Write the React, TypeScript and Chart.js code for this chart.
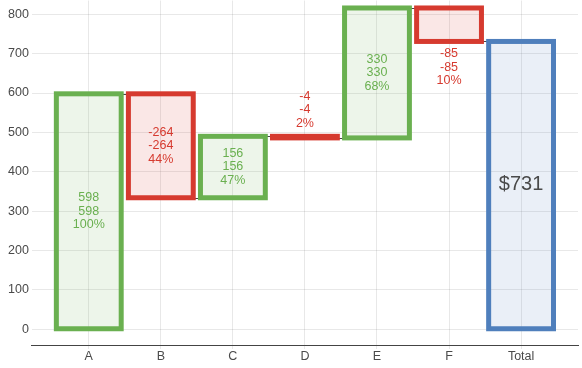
import { useEffect, useRef } from 'react';
import { Chart, registerables } from 'chart.js';

Chart.register(...registerables);

const categories = ['A', 'B', 'C', 'D', 'E', 'F', 'Total'];
const changes = [598, -264, 156, -4, 330, -85];
const totalValue = 731;
const totalLabel = '$731';
const percentLabels = ['100%', '44%', '47%', '2%', '68%', '10%'];
const yTickValues = [0, 100, 200, 300, 400, 500, 600, 700, 800];

const GREEN = '#6ab050';
const RED = '#d63a2f';
const BLUE = '#4f7fbc';
const GREEN_FILL = 'rgba(106,176,80,0.12)';
const RED_FILL = 'rgba(214,58,47,0.12)';
const BLUE_FILL = 'rgba(79,127,188,0.12)';
const FONT_FAMILY = '"Liberation Sans", Arial, Helvetica, sans-serif';

function buildRanges(): number[][] {
  const ranges: number[][] = [];
  let run = 0;
  changes.forEach((c) => {
    ranges.push([run, run + c]);
    run += c;
  });
  ranges.push([0, totalValue]);
  return ranges;
}

export default function App() {
  const canvasRef = useRef<HTMLCanvasElement | null>(null);

  useEffect(() => {
    if (!canvasRef.current) return;
    const ranges = buildRanges();
    const n = ranges.length;
    const borderColors = ranges.map((r, i) => (i === n - 1 ? BLUE : r[1] >= r[0] ? GREEN : RED));
    const fillColors = ranges.map((r, i) => (i === n - 1 ? BLUE_FILL : r[1] >= r[0] ? GREEN_FILL : RED_FILL));

    const waterfallPlugin = {
      id: 'waterfallDecor',
      afterDatasetsDraw(chart: any) {
        const ctx = chart.ctx as CanvasRenderingContext2D;
        const yScale = chart.scales.y;
        const bars = chart.getDatasetMeta(0).data;
        const area = chart.chartArea;
        ctx.save();
        // connectors
        ctx.strokeStyle = '#444';
        ctx.lineWidth = 1;
        for (let i = 0; i < bars.length - 1; i++) {
          const a = bars[i].getProps(['x', 'width'], true);
          const b = bars[i + 1].getProps(['x', 'width'], true);
          const y = Math.round(yScale.getPixelForValue(ranges[i][1])) + 0.5;
          ctx.beginPath();
          ctx.moveTo(a.x + a.width / 2, y);
          ctx.lineTo(b.x - b.width / 2, y);
          ctx.stroke();
        }
        // borders (centred on the bar edges)
        ctx.lineWidth = 5;
        for (let i = 0; i < bars.length; i++) {
          const p = bars[i].getProps(['x', 'y', 'base', 'width'], true);
          const top = Math.min(p.y, p.base);
          const h = Math.abs(p.base - p.y);
          ctx.strokeStyle = borderColors[i];
          ctx.strokeRect(p.x - p.width / 2, top, p.width, h);
        }
        // labels
        ctx.textAlign = 'center';
        ctx.textBaseline = 'middle';
        const lh = 13.3;
        for (let i = 0; i < bars.length; i++) {
          const p = bars[i].getProps(['x', 'y', 'base', 'width'], true);
          const top = Math.min(p.y, p.base);
          const bottom = Math.max(p.y, p.base);
          if (i === n - 1) {
            ctx.font = '20px ' + FONT_FAMILY;
            ctx.fillStyle = '#4a4a4a';
            ctx.fillText(totalLabel, p.x, (top + bottom) / 2 - 1);
            continue;
          }
          const val = String(changes[i]);
          const lines = [val, val, percentLabels[i]];
          ctx.font = '12.5px ' + FONT_FAMILY;
          ctx.fillStyle = borderColors[i];
          let firstY: number;
          if (bottom - top >= 3 * lh + 8) {
            firstY = (top + bottom) / 2 - lh;
          } else if (top - 3 * lh - 12 > area.top) {
            firstY = top - 13 - 2 * lh;
          } else {
            firstY = bottom + 12.5;
          }
          lines.forEach((t, k) => ctx.fillText(t, p.x, firstY + k * lh));
        }
        ctx.restore();
      },
    };

    const chart = new Chart(canvasRef.current, {
      type: 'bar',
      data: {
        datasets: [
          {
            data: ranges.map((r, i) => ({ x: i, y: r })) as any,
            backgroundColor: fillColors,
            borderWidth: 0,
            inflateAmount: 0,
            barPercentage: 0.9,
            categoryPercentage: 1,
          } as any,
        ],
      },
      options: {
        animation: false,
        responsive: true,
        maintainAspectRatio: false,
        layout: { padding: { left: 5, right: 4, top: 0, bottom: 0 } },
        plugins: {
          legend: { display: false },
          tooltip: { enabled: false },
        },
        scales: {
          x: {
            type: 'linear',
            offset: false,
            min: -0.79,
            max: 6.79,
            afterBuildTicks: (scale: any) => {
              scale.ticks = categories.map((_, i) => ({ value: i }));
            },
            ticks: {
              color: '#4a4a4a',
              font: { family: FONT_FAMILY, size: 12.5 },
              padding: 0,
              maxRotation: 0,
              autoSkip: false,
              callback: (v: any) => categories[Number(v)] ?? '',
            },
            grid: { color: 'rgba(0,0,0,0.09)', tickLength: 4, offset: false },
            border: { display: true, color: '#444', width: 1 },
          },
          y: {
            type: 'linear',
            min: -40,
            max: 835,
            afterBuildTicks: (scale: any) => {
              scale.ticks = yTickValues.map((v) => ({ value: v }));
            },
            ticks: {
              color: '#4a4a4a',
              font: { family: FONT_FAMILY, size: 12.5 },
              padding: 3,
            },
            grid: { color: 'rgba(0,0,0,0.09)', drawTicks: false },
            border: { display: false },
          },
        },
      },
      plugins: [waterfallPlugin],
    });
    return () => chart.destroy();
  }, []);

  return (
    <div style={{ position: 'absolute', left: 0, top: -10, width: 582, height: 374 }}>
      <canvas ref={canvasRef} />
    </div>
  );
}
